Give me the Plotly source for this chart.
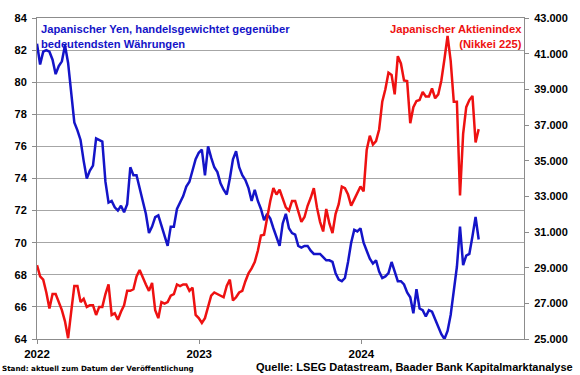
import pandas as pd
import plotly.graph_objects as go

start_date = "2022-01-01"
yen = [82.4, 81.1, 81.9, 82.0, 81.9, 81.4, 80.5, 81.0, 81.3, 82.3,
       81.2, 79.5, 77.5, 77.0, 76.4, 75.1, 74.0, 74.5, 74.8, 76.5,
       76.4, 76.3, 73.8, 72.5, 72.6, 72.2, 72.0, 72.3, 71.9, 72.4,
       74.7, 74.2, 74.2, 73.3, 72.6, 71.8, 70.6, 71.0, 71.6, 71.7,
       71.1, 70.5, 69.8, 71.0, 71.0, 72.1, 72.5, 72.9, 73.5, 73.8,
       74.5, 75.2, 75.6, 75.8, 74.2, 76.0, 75.3, 74.7, 74.4, 73.7,
       73.3, 73.0, 74.0, 75.2, 75.7, 74.7, 74.2, 73.9, 73.4, 72.6,
       73.3, 72.6, 72.1, 71.4, 71.8, 71.5, 70.9, 70.3, 69.8, 71.2,
       71.8, 70.9, 70.6, 70.5, 69.8, 69.7, 69.8, 69.8, 69.5, 69.3,
       69.3, 69.3, 69.1, 68.9, 68.9, 68.8, 68.1, 67.7, 67.6, 67.8,
       68.8, 70.0, 70.8, 70.7, 70.9, 70.0, 69.5, 69.0, 68.7, 68.9,
       68.2, 67.8, 67.9, 68.1, 68.8, 68.2, 67.6, 67.6, 67.4, 66.9,
       66.6, 65.6, 67.1, 65.9, 65.8, 65.4, 65.8, 65.7, 65.2, 64.8,
       64.3, 64.0, 64.5, 65.5, 66.9, 68.5, 71.0, 68.6, 69.2, 69.3,
       70.4, 71.6, 70.2]

nikkei = [29140, 28510, 28330, 27610, 26710, 27520, 27520, 27070, 26620, 25990,
          25045, 26530, 27970, 27970, 27070, 27250, 26800, 26890, 26890, 26350,
          26800, 26800, 27520, 28060, 26350, 26440, 26080, 26530, 26890, 27700,
          27700, 27790, 28510, 28870, 28420, 28060, 27700, 28150, 26620, 26170,
          27070, 26980, 27070, 27430, 27520, 28060, 27970, 28060, 28060, 27700,
          27880, 26350, 26170, 25900, 26170, 26800, 27430, 27610, 27520, 27430,
          27340, 27970, 28330, 27160, 27340, 27610, 27700, 28240, 28690, 28960,
          29320, 29950, 30805, 30850, 31840, 32740, 33460, 33100, 33370, 32920,
          32380, 32200, 32740, 32740, 32110, 31570, 31840, 32470, 32920, 33460,
          32380, 31570, 31030, 32290, 31480, 30940, 32020, 32560, 33550, 33460,
          33100, 32470, 32830, 33190, 33550, 33280, 35600, 36400, 35900, 36100,
          36750, 38300, 39000, 39930, 39800, 38720, 40860, 40450, 39500, 39460,
          37100, 38000, 38350, 38400, 38850, 38600, 38600, 39050, 38500, 38720,
          39500, 40700, 42000, 40600, 38300, 38300, 33050, 36500, 38000, 38400,
          38630, 36020, 36770]

year_ticks = ["2022-01-01", "2023-01-01", "2024-01-01"]
year_labels = ["2022", "2023", "2024"]

dates = pd.date_range(start_date, periods=len(yen), freq="7D")

BLUE = "#1414C8"
RED = "#EE1111"
FONT = "Liberation Sans, Arial, sans-serif"

fig = go.Figure()
fig.add_trace(go.Scatter(x=dates, y=yen, mode="lines",
                         line=dict(color=BLUE, width=2.5), yaxis="y"))
fig.add_trace(go.Scatter(x=dates, y=nikkei, mode="lines",
                         line=dict(color=RED, width=2.5), yaxis="y2"))

axis_col = "#8C8C8C"
tick_font = dict(family=FONT, size=11, weight="bold", color="black")
fig.update_layout(
    width=580, height=375,
    margin=dict(l=37, r=54, t=17, b=36),
    paper_bgcolor="white", plot_bgcolor="white",
    showlegend=False,
    separators=",.",
    font=dict(family=FONT, size=11, color="black"),
    xaxis=dict(type="date", range=["2022-01-01", "2025-01-01"],
               tickvals=year_ticks, ticktext=year_labels,
               ticks="outside", ticklen=4, tickcolor=axis_col,
               showline=True, linecolor=axis_col, linewidth=1, mirror=True,
               showgrid=False, zeroline=False,
               tickfont=dict(family=FONT, size=11.5, weight="bold", color="black")),
    yaxis=dict(range=[64, 84], dtick=2, tick0=64,
               ticks="outside", ticklen=4, tickcolor=axis_col,
               showline=True, linecolor=axis_col, linewidth=1,
               showgrid=True, gridcolor="#A6A6A6", gridwidth=1,
               zeroline=False, ticklabelstandoff=3,
               tickfont=tick_font),
    yaxis2=dict(range=[25000, 43000], dtick=2000, tick0=25000,
                overlaying="y", side="right", tickformat=",d",
                ticks="outside", ticklen=4, tickcolor=axis_col,
                showline=True, linecolor=axis_col, linewidth=1,
                showgrid=False, zeroline=False, ticklabelstandoff=3,
                tickfont=tick_font),
)

fig.add_annotation(xref="paper", yref="paper", x=0.004, y=0.99,
                   xanchor="left", yanchor="top", align="left",
                   text="<b>Japanischer Yen, handelsgewichtet gegenüber<br>bedeutendsten Währungen</b>",
                   showarrow=False,
                   font=dict(family=FONT, size=11.2, color=BLUE))
fig.add_annotation(xref="paper", yref="paper", x=1.0, y=0.99,
                   xanchor="right", yanchor="top", align="right",
                   text="<b>Japanischer Aktienindex<br>(Nikkei 225)</b>",
                   showarrow=False,
                   font=dict(family=FONT, size=11.2, color=RED))
fig.add_annotation(xref="paper", yref="paper", x=-37/489, y=0, xanchor="left", yanchor="middle",
                   text="<b>Stand: aktuell zum Datum der Veröffentlichung</b>",
                   showarrow=False, yshift=-29,
                   font=dict(family="DejaVu Sans, sans-serif", size=7.2, color="black"))
fig.add_annotation(xref="paper", yref="paper", x=1 + 51/489, y=0, xanchor="right", yanchor="middle",
                   text="<b>Quelle: LSEG Datastream, Baader Bank Kapitalmarktanalyse</b>",
                   showarrow=False, yshift=-28,
                   font=dict(family=FONT, size=11, color="black"))

fig.write_html("out.html", config={"displayModeBar": False},
               post_script="document.body.style.margin='0px';document.body.style.overflow='hidden';")
